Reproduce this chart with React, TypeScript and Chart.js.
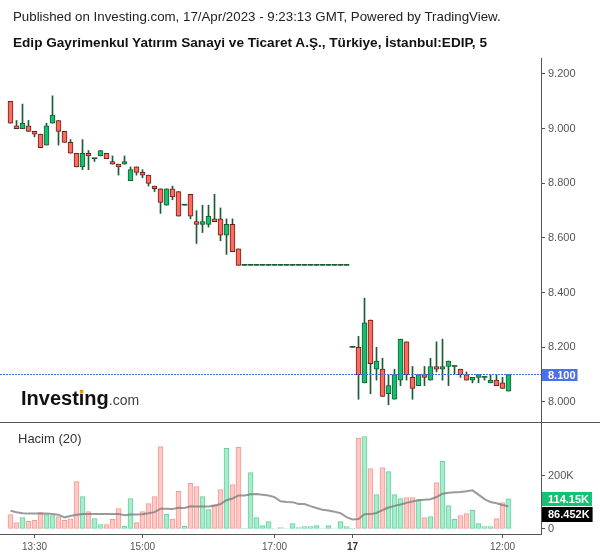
import { useEffect, useRef } from 'react';
import { Chart, registerables } from 'chart.js';

Chart.register(...registerables);

const FONT = "'Liberation Sans', Arial, Helvetica, sans-serif";

const titleLine1 = 'Published on Investing.com, 17/Apr/2023 - 9:23:13 GMT, Powered by TradingView.';
const titleLine2 = 'Edip Gayrimenkul Yatırım Sanayi ve Ticaret A.Ş., Türkiye, İstanbul:EDIP, 5';
const volumeTitle = 'Hacim (20)';
const logoMain = 'Investing';
const logoSuffix = '.com';

const timeTickIndex = [4, 22, 44, 57, 82];
const timeTickLabels = ['13:30', '15:00', '17:00', '17', '12:00'];
const timeTickBold = [false, false, false, true, false];

const priceTicks = [8.0, 8.2, 8.4, 8.6, 8.8, 9.0, 9.2];
const volumeTicks = [0, 200];
const volumeTickLabels = ['0', '200K'];

const opens = [
  9.10, 9.01, 9.00, 9.01, 8.99, 8.98, 8.94, 9.02, 9.03, 8.99,
  8.95, 8.91, 8.86, 8.91, 8.89, 8.90, 8.91, 8.88, 8.87, 8.87,
  8.81, 8.86, 8.84, 8.83, 8.79, 8.78, 8.72, 8.78, 8.77, 8.72,
  8.76, 8.66, 8.65, 8.65, 8.67, 8.67, 8.61, 8.65, 8.56, 8.50,
  8.50, 8.50, 8.50, 8.50, 8.50, 8.50, 8.50, 8.50, 8.50, 8.50,
  8.50, 8.50, 8.50, 8.50, 8.50, 8.50, 8.50, 8.20, 8.20, 8.07,
  8.30, 8.12, 8.12, 8.03, 8.01, 8.08, 8.22, 8.09, 8.06, 8.10,
  8.08, 8.13, 8.12, 8.13, 8.13, 8.12, 8.10, 8.08, 8.09, 8.09,
  8.07, 8.08, 8.07, 8.04,
];
const highs = [
  9.10, 9.03, 9.09, 9.03, 8.99, 8.98, 9.02, 9.12, 9.03, 8.99,
  8.96, 8.91, 8.96, 8.92, 8.89, 8.92, 8.91, 8.90, 8.87, 8.90,
  8.86, 8.86, 8.85, 8.83, 8.79, 8.78, 8.78, 8.79, 8.77, 8.72,
  8.76, 8.70, 8.72, 8.72, 8.76, 8.71, 8.67, 8.67, 8.56, 8.50,
  8.50, 8.50, 8.50, 8.50, 8.50, 8.50, 8.50, 8.50, 8.50, 8.50,
  8.50, 8.50, 8.50, 8.50, 8.50, 8.50, 8.50, 8.20, 8.24, 8.38,
  8.30, 8.20, 8.16, 8.10, 8.12, 8.23, 8.22, 8.13, 8.10, 8.13,
  8.16, 8.22, 8.23, 8.15, 8.13, 8.12, 8.11, 8.09, 8.10, 8.09,
  8.10, 8.10, 8.09, 8.10,
];
const lows = [
  9.02, 9.00, 9.00, 8.99, 8.97, 8.93, 8.94, 9.02, 8.94, 8.95,
  8.91, 8.86, 8.85, 8.85, 8.88, 8.90, 8.89, 8.87, 8.83, 8.87,
  8.81, 8.83, 8.82, 8.79, 8.77, 8.69, 8.72, 8.74, 8.68, 8.72,
  8.67, 8.58, 8.62, 8.64, 8.66, 8.59, 8.54, 8.55, 8.50, 8.50,
  8.50, 8.50, 8.50, 8.50, 8.50, 8.50, 8.50, 8.50, 8.50, 8.50,
  8.50, 8.50, 8.50, 8.50, 8.50, 8.50, 8.50, 8.20, 8.01, 8.07,
  8.03, 8.08, 8.02, 7.99, 8.01, 8.06, 8.08, 8.01, 8.06, 8.06,
  8.08, 8.11, 8.08, 8.06, 8.10, 8.09, 8.08, 8.07, 8.07, 8.08,
  8.07, 8.06, 8.05, 8.04,
];
const closes = [
  9.02, 9.00, 9.02, 8.99, 8.98, 8.93, 9.01, 9.05, 8.99, 8.95,
  8.91, 8.86, 8.91, 8.90, 8.89, 8.92, 8.89, 8.87, 8.86, 8.88,
  8.85, 8.84, 8.83, 8.80, 8.78, 8.73, 8.78, 8.75, 8.68, 8.72,
  8.68, 8.65, 8.66, 8.68, 8.66, 8.61, 8.65, 8.55, 8.50, 8.50,
  8.50, 8.50, 8.50, 8.50, 8.50, 8.50, 8.50, 8.50, 8.50, 8.50,
  8.50, 8.50, 8.50, 8.50, 8.50, 8.50, 8.50, 8.20, 8.10, 8.29,
  8.14, 8.15, 8.02, 8.06, 8.10, 8.23, 8.10, 8.05, 8.10, 8.09,
  8.13, 8.12, 8.13, 8.15, 8.13, 8.10, 8.08, 8.09, 8.10, 8.09,
  8.08, 8.06, 8.05, 8.10,
];
// volume in thousands
const volumes = [
  54, 24, 43, 29, 33, 62, 54, 51, 47, 33,
  38, 179, 122, 66, 39, 17, 17, 36, 77, 11,
  115, 24, 66, 96, 122, 311, 55, 37, 142, 10,
  172, 160, 122, 73, 92, 149, 304, 168, 308, 1,
  213, 43, 13, 28, 2, 5, 2, 20, 5, 9,
  9, 13, 2, 13, 2, 28, 9, 0.5, 342, 349,
  228, 130, 232, 217, 130, 115, 119, 119, 111, 43,
  47, 175, 255, 88, 36, 51, 58, 70, 20, 9,
  9, 39, 100, 114.15,
];
// 20-period volume average as read for the first bars (earlier history is off-screen)
const volumeMaHead = [69, 63, 59, 58, 58, 58, 58, 57, 54, 44, 49, 54, 57, 57, 57, 57, 57, 57, 57];
const maPeriod = 20;
const lastVolumeLabel = '114.15K';
const lastMaLabel = '86.452K';

const COLORS = {
  upFill: '#14c06f',
  upBorder: '#1c5a31',
  downFill: '#fc6b5c',
  downBorder: '#6c1f1f',
  wick: '#1d5c33',
  volUpFill: '#a9ebcc',
  volUpBorder: '#62d49e',
  volDownFill: '#ffc9c6',
  volDownBorder: '#f39b95',
  ma: 'rgba(120,120,120,0.75)',
  axis: '#555555',
  priceBox: '#4a72e8',
  priceLine: '#3d6cf0',
  volBox: '#13c274',
  maBox: '#000000',
};

const isDoji = (i: number) => closes[i] === opens[i];
const isUp = (i: number) => closes[i] >= opens[i];

const volumeMa = volumes.map((_, i) =>
  i < volumeMaHead.length
    ? volumeMaHead[i]
    : volumes.slice(i - maPeriod + 1, i + 1).reduce((a, b) => a + b, 0) / maPeriod
);

const overlayPlugin = {
  id: 'overlay',
  afterDatasetsDraw(chart: any) {
    const { ctx, chartArea, scales } = chart;
    const yP = scales.yP;
    const last = closes.length - 1;
    const y = Math.floor(yP.getPixelForValue(closes[last])) + 0.5;
    ctx.save();
    ctx.strokeStyle = COLORS.priceLine;
    ctx.lineWidth = 1;
    ctx.setLineDash([2, 1]);
    ctx.beginPath();
    ctx.moveTo(chartArea.left, y);
    ctx.lineTo(chartArea.right, y);
    ctx.stroke();
    ctx.restore();
  },
  afterDraw(chart: any) {
    const { ctx, scales } = chart;
    const yP = scales.yP;
    const yV = scales.yV;
    const last = closes.length - 1;
    ctx.save();
    // pane separator
    ctx.strokeStyle = COLORS.axis;
    ctx.lineWidth = 1;
    const sy = Math.round(yV.top) + 0.5;
    ctx.beginPath();
    ctx.moveTo(0, sy);
    ctx.lineTo(chart.width, sy);
    ctx.stroke();

    // volume pane title
    ctx.fillStyle = '#333';
    ctx.font = `13px ${FONT}`;
    ctx.textAlign = 'left';
    ctx.textBaseline = 'middle';
    ctx.fillText(volumeTitle, 18, yV.top + 17.5);

    // watermark logo
    ctx.textBaseline = 'alphabetic';
    ctx.font = `bold 20px ${FONT}`;
    ctx.fillStyle = '#111';
    const lx = 21;
    const ly = 405;
    ctx.fillText(logoMain, lx, ly);
    const wMain = ctx.measureText(logoMain).width;
    const wPre = ctx.measureText(logoMain.slice(0, 6)).width;
    const wI = ctx.measureText('i').width;
    ctx.fillStyle = '#f5a000';
    ctx.fillRect(lx + wPre + wI / 2 - 1.7, ly - 14.8, 3.4, 3.4);
    ctx.font = `14px ${FONT}`;
    ctx.fillStyle = '#444';
    ctx.fillText(logoSuffix, lx + wMain, ly);

    // axis boxes
    const ax = yP.left + 1;
    ctx.textBaseline = 'middle';
    ctx.font = `bold 11px ${FONT}`;
    const priceLabel = closes[last].toFixed(3);
    const pw = ctx.measureText(priceLabel).width;
    const py = yP.getPixelForValue(closes[last]);
    const pTop = Math.round(py - 6);
    ctx.fillStyle = COLORS.priceBox;
    ctx.fillRect(ax, pTop, 6 + pw + 2, 12);
    ctx.fillStyle = '#fff';
    ctx.fillText(priceLabel, ax + 6, pTop + 6.5);

    const vy = yV.getPixelForValue(volumes[last]);
    const vw = ctx.measureText(lastVolumeLabel).width;
    const vTop = Math.round(vy - 7);
    ctx.fillStyle = COLORS.volBox;
    ctx.fillRect(ax, vTop, 6 + vw + 3, 14);
    ctx.fillStyle = '#fff';
    ctx.fillText(lastVolumeLabel, ax + 6, vTop + 7.5);

    const mw = ctx.measureText(lastMaLabel).width;
    const mTop = vTop + 15;
    ctx.fillStyle = COLORS.maBox;
    ctx.fillRect(ax, mTop, 6 + mw + 3, 15);
    ctx.fillStyle = '#fff';
    ctx.fillText(lastMaLabel, ax + 6, mTop + 8);
    ctx.restore();
  },
};

export default function App() {
  const canvasRef = useRef<HTMLCanvasElement | null>(null);

  useEffect(() => {
    if (!canvasRef.current) return;
    Chart.defaults.font.family = FONT;
    const idx = opens.map((_, i) => i);
    const axisGrid = {
      display: true,
      drawOnChartArea: false,
      drawTicks: true,
      tickLength: 4,
      color: COLORS.axis,
      offset: false,
    };
    const chart = new Chart(canvasRef.current, {
      type: 'bar',
      data: {
        datasets: [
          {
            type: 'line',
            label: 'Hacim MA',
            data: idx.map((i) => ({ x: i, y: volumeMa[i] })),
            xAxisID: 'x',
            yAxisID: 'yV',
            borderColor: COLORS.ma,
            borderWidth: 2,
            pointRadius: 0,
            tension: 0,
            order: 0,
          } as any,
          {
            type: 'bar',
            label: 'body',
            data: idx.map((i) => ({ x: i, y: [opens[i], closes[i]] })),
            xAxisID: 'x',
            yAxisID: 'yP',
            grouped: false,
            barThickness: 5,
            minBarLength: 1,
            borderSkipped: false,
            backgroundColor: (c: any) =>
              isDoji(c.dataIndex) ? COLORS.wick : isUp(c.dataIndex) ? COLORS.upFill : COLORS.downFill,
            borderColor: (c: any) => (isUp(c.dataIndex) ? COLORS.upBorder : COLORS.downBorder),
            borderWidth: (c: any) => (isDoji(c.dataIndex) ? 0 : 1),
            order: 1,
          } as any,
          {
            type: 'bar',
            label: 'wick',
            data: idx.map((i) => ({ x: i, y: [lows[i], highs[i]] })),
            xAxisID: 'x',
            yAxisID: 'yP',
            grouped: false,
            barThickness: 1,
            borderWidth: 0,
            backgroundColor: COLORS.wick,
            order: 2,
          } as any,
          {
            type: 'bar',
            label: 'Hacim',
            data: idx.map((i) => ({ x: i, y: volumes[i] })),
            xAxisID: 'x',
            yAxisID: 'yV',
            grouped: false,
            barThickness: 5,
            borderWidth: 1,
            borderSkipped: false,
            backgroundColor: (c: any) => (isUp(c.dataIndex) ? COLORS.volUpFill : COLORS.volDownFill),
            borderColor: (c: any) => (isUp(c.dataIndex) ? COLORS.volUpBorder : COLORS.volDownBorder),
            order: 3,
          } as any,
        ],
      },
      options: {
        responsive: false,
        animation: false,
        devicePixelRatio: 1,
        events: [],
        layout: { padding: { top: 58, left: 0, right: 0, bottom: 0 } },
        plugins: { legend: { display: false }, tooltip: { enabled: false } },
        scales: {
          x: {
            type: 'linear',
            position: 'bottom',
            min: -1.75,
            max: 88.4167,
            offset: false,
            afterBuildTicks: (s: any) => {
              s.ticks = timeTickIndex.map((v) => ({ value: v }));
            },
            afterFit: (s: any) => {
              s.height = 24;
              s.paddingLeft = 0;
              s.paddingRight = 0;
            },
            ticks: {
              autoSkip: false,
              maxRotation: 0,
              minRotation: 0,
              padding: 3,
              callback: (_v: any, i: number) => timeTickLabels[i],
              color: (c: any) => (timeTickBold[c.index] ? '#333' : '#555'),
              font: (c: any) => ({
                size: 10,
                family: FONT,
                weight: timeTickBold[c.index] ? 'bold' : 'normal',
              }),
            },
            grid: axisGrid,
            border: { display: true, color: COLORS.axis },
          },
          yP: {
            type: 'linear',
            position: 'right',
            stack: 'panes',
            stackWeight: 364,
            min: 7.9268,
            max: 9.2585,
            afterBuildTicks: (s: any) => {
              s.ticks = priceTicks.map((v) => ({ value: v }));
            },
            afterFit: (s: any) => {
              s.width = 59;
              s.paddingTop = 0;
              s.paddingBottom = 0;
            },
            ticks: {
              autoSkip: false,
              padding: 3,
              color: '#555',
              font: { size: 11, family: FONT },
              callback: (v: any) => Number(v).toFixed(3),
            },
            grid: axisGrid,
            border: { display: true, color: COLORS.axis },
          },
          yV: {
            type: 'linear',
            position: 'right',
            stack: 'panes',
            stackWeight: 112,
            min: -18.9,
            max: 403.8,
            afterBuildTicks: (s: any) => {
              s.ticks = volumeTicks.map((v) => ({ value: v }));
            },
            afterFit: (s: any) => {
              s.width = 59;
              s.paddingTop = 0;
              s.paddingBottom = 0;
            },
            ticks: {
              autoSkip: false,
              padding: 3,
              color: '#555',
              font: { size: 11, family: FONT },
              callback: (_v: any, i: number) => volumeTickLabels[i],
            },
            grid: axisGrid,
            border: { display: true, color: COLORS.axis },
          },
        },
      } as any,
      plugins: [overlayPlugin],
    });
    return () => chart.destroy();
  }, []);

  return (
    <div
      style={{
        position: 'absolute',
        left: 0,
        top: 0,
        width: 600,
        height: 558,
        background: '#fff',
        fontFamily: FONT,
        overflow: 'hidden',
      }}
    >
      <canvas ref={canvasRef} width={600} height={558} style={{ position: 'absolute', left: 0, top: 0 }} />
      <div
        style={{
          position: 'absolute',
          left: 13,
          top: 9,
          fontSize: 13.3,
          lineHeight: '16px',
          color: '#222',
          whiteSpace: 'nowrap',
        }}
      >
        {titleLine1}
      </div>
      <div
        style={{
          position: 'absolute',
          left: 13,
          top: 35,
          fontSize: 13.6,
          lineHeight: '16px',
          fontWeight: 'bold',
          color: '#111',
          whiteSpace: 'nowrap',
        }}
      >
        {titleLine2}
      </div>
    </div>
  );
}
